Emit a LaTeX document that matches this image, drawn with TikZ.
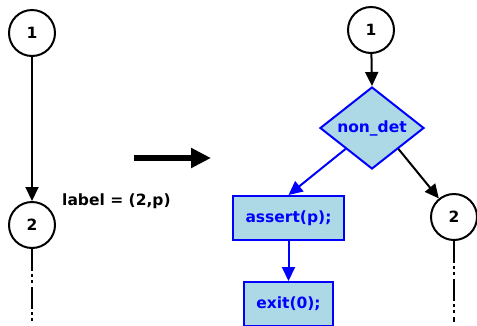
\documentclass[tikz,border=0pt]{standalone}
\usepackage{fontspec}
\setmainfont{DejaVu Sans}
\usetikzlibrary{shapes.geometric,arrows.meta}
\definecolor{boxfill}{HTML}{ADD8E6}
\definecolor{boxline}{HTML}{0000FF}
\tikzset{
  every node/.style={font=\fontsize{15.5}{18}\selectfont\bfseries},
  state/.style={circle,draw=black,line width=2pt,minimum size=46pt,inner sep=0pt},
  stmt/.style={rectangle,draw=boxline,fill=boxfill,text=boxline,line width=2pt,inner sep=0pt},
  choice/.style={diamond,draw=boxline,fill=boxfill,text=boxline,line width=2pt,inner sep=0pt,
    aspect=1.27,minimum width=104pt,minimum height=82pt},
  flow/.style={line width=2pt,-{Triangle[width=13pt,length=14pt]}},
  bflow/.style={flow,draw=boxline,fill=boxline},
  tail/.style={line width=2pt,dash pattern=on 22pt off 3pt on 3pt off 3pt on 3pt off 4pt},
  bigarrow/.style={line width=5.5pt,-{Triangle[width=19pt,length=20pt]}}
}
\begin{document}
\begin{tikzpicture}[x=1pt,y=-1pt]
\useasboundingbox (0,0) rectangle (477,325);
% original fragment
\node[state] (l1) at (32,33) {1};
\node[state] (l2) at (32,225) {2};
\coordinate (lend) at (32,322);
\draw[flow] (l1) -- (l2);
\draw[tail] (l2) -- (lend);
\node[anchor=west,inner sep=0pt] (lab) at (62,201) {label = (2,p)};
% transformation arrow
\coordinate (ta) at (134,158);
\coordinate (tb) at (211,158);
\draw[bigarrow] (ta) -- (tb);
% instrumented fragment
\node[state] (r1) at (371,30) {1};
\node[choice] (nd) at (372,128) {non\_det};
\node[stmt,minimum width=111pt,minimum height=44pt] (as) at (288.5,218) {assert(p);};
\node[stmt,minimum width=89pt,minimum height=44pt] (ex) at (288.5,304) {exit(0);};
\node[state] (r2) at (454,217) {2};
\coordinate (rend) at (454,322);
\draw[flow] (r1) -- (nd.north);
\draw[bflow] (nd.south west) -- (as.north);
\draw[bflow] (as.south) -- (ex.north);
\draw[flow] (nd.south east) -- (r2);
\draw[tail] (r2) -- (rend);
\end{tikzpicture}
\end{document}
